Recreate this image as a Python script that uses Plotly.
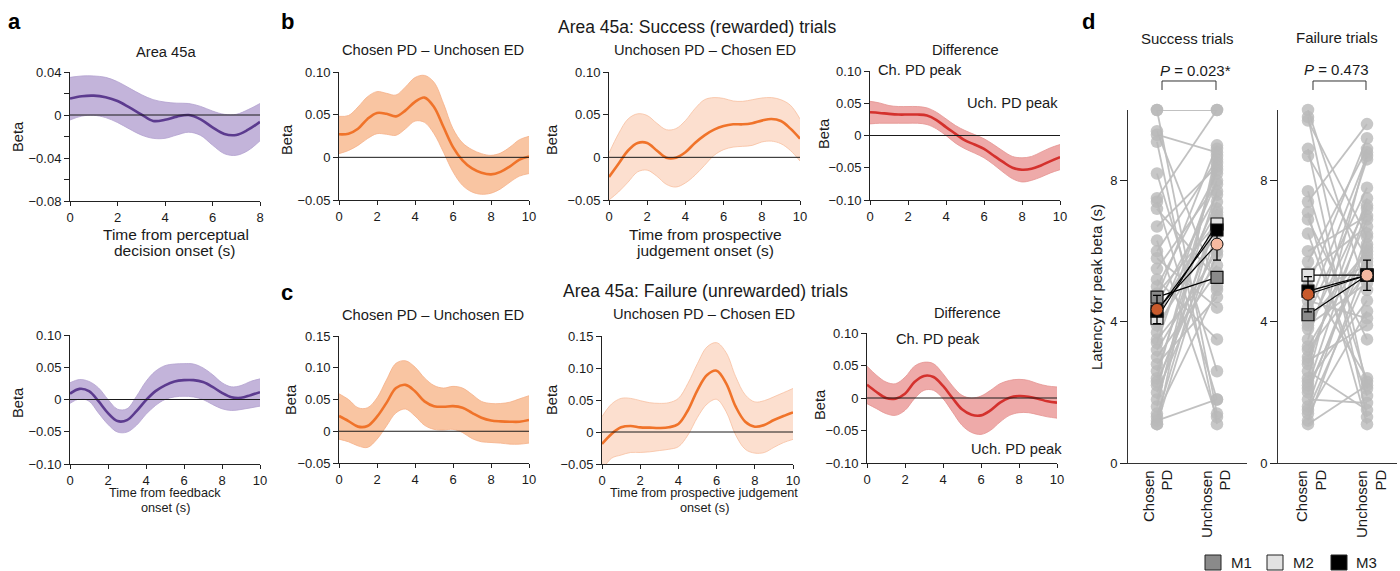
import plotly.graph_objects as go

W, H = 1400, 571
FONT = "Liberation Sans"
TXT = "#1a1a1a"
AX = "#222222"


def X(p):
    return p / W


def Y(p):
    return 1 - p / H


# ---------------- data ----------------
T8 = [0, 0.5, 1, 1.5, 2, 2.5, 3, 3.5, 4, 4.5, 5, 5.5, 6, 6.5, 7, 7.5, 8]
T10 = [0, 0.5, 1, 1.5, 2, 2.5, 3, 3.5, 4, 4.5, 5, 5.5, 6, 6.5, 7, 7.5, 8, 8.5, 9, 9.5, 10]

# a (top): perceptual decision onset
A1_MEAN = [0.0153, 0.0175, 0.018, 0.0165, 0.013, 0.007, 0.0006, -0.0055, -0.0045, -0.0015, 0.0,
           -0.004, -0.0115, -0.0177, -0.0186, -0.0137, -0.0064]
A1_UP = [0.035, 0.0363, 0.0363, 0.035, 0.031, 0.025, 0.019, 0.0143, 0.012, 0.011, 0.0107,
         0.008, 0.0037, 0.0006, 0.0006, 0.005, 0.0107]
A1_LO = [-0.0046, -0.001, -0.0003, -0.0024, -0.007, -0.013, -0.0186, -0.0217, -0.0217, -0.0186, -0.016,
         -0.019, -0.028, -0.036, -0.0375, -0.033, -0.024]

# a (bottom): feedback onset
A2_MEAN = [0.009, 0.0165, 0.013, -0.0026, -0.021, -0.0335, -0.032, -0.018, -0.001, 0.013, 0.022,
           0.028, 0.030, 0.030, 0.027, 0.0196, 0.0103, 0.0036, 0.0026, 0.0067, 0.0113]
A2_UP = [0.026, 0.031, 0.028, 0.018, 0.0, -0.015, -0.0144, 0.005, 0.028, 0.044, 0.0525,
         0.055, 0.0556, 0.055, 0.049, 0.0386, 0.026, 0.0196, 0.0216, 0.028, 0.032]
A2_LO = [-0.006, 0.001, -0.0026, -0.021, -0.0386, -0.0505, -0.0505, -0.040, -0.023, -0.0093, 0.0,
         0.004, 0.005, 0.004, 0.0, -0.0077, -0.0144, -0.017, -0.0155, -0.013, -0.0103]

# b: success trials
B1_MEAN = [0.027, 0.0277, 0.0335, 0.045, 0.052, 0.051, 0.048, 0.055, 0.065, 0.070, 0.059,
           0.0355, 0.012, -0.0035, -0.013, -0.018, -0.020, -0.017, -0.0105, -0.0027, 0.001]
B1_UP = [0.048, 0.049, 0.059, 0.071, 0.077, 0.075, 0.073, 0.0825, 0.0935, 0.096, 0.088,
         0.063, 0.0335, 0.017, 0.009, 0.0043, 0.0023, 0.005, 0.012, 0.0207, 0.0246]
B1_LO = [0.0043, 0.008, 0.014, 0.022, 0.0277, 0.027, 0.0258, 0.0335, 0.0425, 0.041, 0.0277,
         0.006, -0.017, -0.0328, -0.0406, -0.0433, -0.042, -0.037, -0.029, -0.022, -0.019]

B2_MEAN = [-0.023, -0.0074, 0.008, 0.0168, 0.0168, 0.008, -0.0004, -0.0004, 0.006, 0.0168, 0.0258,
           0.0324, 0.0367, 0.0387, 0.0387, 0.040, 0.043, 0.045, 0.0426, 0.0336, 0.0219]
B2_UP = [0.005, 0.0277, 0.045, 0.051, 0.049, 0.040, 0.0324, 0.0336, 0.043, 0.057, 0.0675,
         0.070, 0.069, 0.066, 0.0656, 0.0675, 0.0695, 0.070, 0.0675, 0.061, 0.045]
B2_LO = [-0.05, -0.0406, -0.029, -0.017, -0.015, -0.022, -0.0316, -0.0348, -0.030, -0.021, -0.0094,
         0.0023, 0.009, 0.012, 0.0129, 0.014, 0.018, 0.019, 0.016, 0.008, -0.0043]

B3_MEAN = [0.036, 0.035, 0.0335, 0.0325, 0.0325, 0.0325, 0.031, 0.024, 0.013, 0.0026, -0.0077,
           -0.014, -0.0206, -0.031, -0.041, -0.050, -0.053, -0.0516, -0.0464, -0.0397, -0.0335]
B3_UP = [0.053, 0.0505, 0.0464, 0.0449, 0.0449, 0.0449, 0.0428, 0.036, 0.0258, 0.0155, 0.0077,
         0.0015, -0.005, -0.014, -0.024, -0.0325, -0.0346, -0.0325, -0.0258, -0.019, -0.014]
B3_LO = [0.018, 0.019, 0.019, 0.019, 0.019, 0.019, 0.017, 0.0103, 0.0, -0.0119, -0.0206,
         -0.0273, -0.0346, -0.045, -0.0567, -0.067, -0.072, -0.0696, -0.0644, -0.058, -0.053]

# c: failure trials
C1_MEAN = [0.024, 0.016, 0.0073, 0.0083, 0.0229, 0.0447, 0.068, 0.073, 0.063, 0.047, 0.0395,
           0.0385, 0.0395, 0.037, 0.029, 0.0213, 0.017, 0.0156, 0.015, 0.015, 0.0177]
C1_UP = [0.059, 0.05, 0.037, 0.037, 0.0525, 0.081, 0.107, 0.111, 0.101, 0.084, 0.072,
         0.068, 0.0707, 0.068, 0.058, 0.047, 0.0437, 0.0437, 0.0458, 0.051, 0.056]
C1_LO = [-0.0125, -0.0166, -0.023, -0.0255, -0.0125, 0.0083, 0.029, 0.035, 0.024, 0.0094, 0.003,
         0.002, 0.003, -0.002, -0.0115, -0.0166, -0.0177, -0.0187, -0.0203, -0.0203, -0.0187]

C2_MEAN = [-0.0187, -0.003, 0.0073, 0.0094, 0.0073, 0.0068, 0.0063, 0.0073, 0.0125, 0.034, 0.0656,
           0.089, 0.0958, 0.076, 0.0395, 0.016, 0.0083, 0.011, 0.0187, 0.025, 0.0307]
C2_UP = [0.024, 0.0437, 0.0525, 0.0525, 0.049, 0.0458, 0.0447, 0.0458, 0.0525, 0.076, 0.107,
         0.133, 0.1396, 0.124, 0.0864, 0.058, 0.047, 0.049, 0.055, 0.0614, 0.068]
C2_LO = [-0.06, -0.041, -0.036, -0.032, -0.032, -0.031, -0.029, -0.027, -0.023, -0.0047, 0.023,
         0.0437, 0.051, 0.0317, -0.0047, -0.027, -0.033, -0.032, -0.024, -0.0166, -0.0115]

C3_MEAN = [0.0205, 0.0092, 0.0, -0.001, 0.0067, 0.0246, 0.034, 0.0323, 0.0185, 0.0, -0.0174,
           -0.0257, -0.0267, -0.019, -0.0072, 0.0005, 0.003, 0.002, -0.001, -0.0051, -0.0072]
C3_UP = [0.049, 0.035, 0.0246, 0.022, 0.032, 0.049, 0.055, 0.0528, 0.0374, 0.0185, 0.0041,
         0.0, 0.003, 0.0118, 0.022, 0.027, 0.0287, 0.027, 0.022, 0.0185, 0.017]
C3_LO = [-0.0087, -0.0164, -0.024, -0.0267, -0.019, -0.001, 0.0118, 0.0118, -0.001, -0.0215, -0.042,
         -0.053, -0.056, -0.0497, -0.037, -0.0267, -0.0226, -0.0226, -0.0257, -0.029, -0.031]

# d: latency for peak beta (s), per session, chosen PD vs unchosen PD
D_CATS = ["Chosen PD", "Unchosen PD"]
SUCC_CHOSEN = [10.0, 10.0, 9.4, 9.3, 9.1, 8.2, 7.5, 7.4, 7.2, 6.7, 6.3, 6.0, 5.8, 5.5, 5.2, 5.0, 4.8, 4.7, 4.5, 4.2,
               4.0, 3.9, 3.7, 3.5, 3.4, 3.2, 2.8, 2.6, 2.4, 2.3, 2.2, 2.0, 1.8, 1.6, 1.4, 1.3, 1.2, 1.1, 1.1, 3.0]
SUCC_UNCHOSEN = [10.0, 1.4, 5.0, 8.8, 1.1, 2.6, 10.0, 1.8, 5.2, 8.4, 1.3, 8.6, 4.4, 7.9, 3.5, 8.2, 6.8, 9.0, 7.6, 7.1,
                 8.0, 6.5, 7.4, 5.6, 8.3, 6.0, 4.7, 7.7, 8.5, 6.2, 6.9, 5.9, 7.2, 8.7, 4.9, 7.0, 1.8, 6.6, 8.9, 5.4]
FAIL_CHOSEN = [10.0, 9.8, 9.7, 8.9, 8.7, 7.7, 7.4, 7.1, 6.9, 6.5, 6.0, 5.7, 5.4, 5.2, 5.0, 4.8, 4.6, 4.4, 4.2, 4.0,
               3.9, 3.8, 3.5, 3.2, 3.0, 2.9, 2.8, 2.6, 2.4, 2.3, 2.2, 2.1, 2.0, 1.8, 1.6, 1.5, 1.4, 1.2, 1.1, 3.3]
FAIL_UNCHOSEN = [4.9, 2.1, 6.4, 1.3, 5.8, 2.3, 9.6, 1.1, 3.5, 1.9, 7.0, 8.9, 6.7, 2.4, 9.2, 5.6, 4.1, 8.7, 7.8, 6.0,
                 5.1, 7.3, 8.6, 5.4, 6.9, 3.9, 7.5, 1.5, 8.8, 4.6, 7.2, 5.9, 6.2, 1.7, 6.5, 5.3, 4.3, 5.7, 2.2, 6.1]

MONKEYS = ["M1", "M2", "M3"]
SUCC_M_CHOSEN = [4.7, 4.1, 4.3]
SUCC_M_UNCHOSEN = [5.26, 6.77, 6.6]
FAIL_M_CHOSEN = [4.2, 5.32, 4.87]
FAIL_M_UNCHOSEN = [5.32, 5.32, 5.32]
SUCC_MEAN = [4.35, 6.2]
SUCC_SEM = [0.4, 0.45]
FAIL_MEAN = [4.78, 5.32]
FAIL_SEM = [0.5, 0.43]
P_SUCC = "<i>P</i> = 0.023*"
P_FAIL = "<i>P</i> = 0.473"

MONKEY_COLORS = ["#8a8a8a", "#e2e2e2", "#000000"]

PURPLE = ("#5c3b8f", "#c3b4da", "#b3a1cf")
ORANGE = ("#f0732a", "#f9c5a2", "#f5b088")
ORANGE_L = ("#f0732a", "#fcdfcf", "#f7bf9f")
RED = ("#d4312d", "#eeaaa9", "#e59391")

fig = go.Figure()


def axid(i):
    return "" if i == 1 else str(i)


def band(i, t, up, lo, mean, col):
    a = axid(i)
    fig.add_trace(go.Scatter(x=t, y=lo, mode="lines", line=dict(color=col[2], width=0.8, shape="spline"),
                             xaxis="x" + a, yaxis="y" + a, showlegend=False, hoverinfo="skip"))
    fig.add_trace(go.Scatter(x=t, y=up, mode="lines", line=dict(color=col[2], width=0.8, shape="spline"),
                             fill="tonexty", fillcolor=col[1],
                             xaxis="x" + a, yaxis="y" + a, showlegend=False, hoverinfo="skip"))
    fig.add_trace(go.Scatter(x=t, y=mean, mode="lines", line=dict(color=col[0], width=2.6, shape="spline"),
                             xaxis="x" + a, yaxis="y" + a, showlegend=False))


band(1, T8, A1_UP, A1_LO, A1_MEAN, PURPLE)
band(2, T10, A2_UP, A2_LO, A2_MEAN, PURPLE)
band(3, T10, B1_UP, B1_LO, B1_MEAN, ORANGE)
band(4, T10, B2_UP, B2_LO, B2_MEAN, ORANGE_L)
band(5, T10, B3_UP, B3_LO, B3_MEAN, RED)
band(6, T10, C1_UP, C1_LO, C1_MEAN, ORANGE)
band(7, T10, C2_UP, C2_LO, C2_MEAN, ORANGE_L)
band(8, T10, C3_UP, C3_LO, C3_MEAN, RED)


def latency_panel(i, chosen, unchosen, m_ch, m_un, mean, sem):
    a = axid(i)
    xs, ys = [], []
    for c, u in zip(chosen, unchosen):
        xs += [0, 1, None]
        ys += [c, u, None]
    fig.add_trace(go.Scatter(x=xs, y=ys, mode="lines+markers",
                             line=dict(color="rgba(190,190,190,0.95)", width=1.8),
                             marker=dict(size=12.5, color="rgba(185,185,185,0.8)", line=dict(width=0)),
                             cliponaxis=False, xaxis="x" + a, yaxis="y" + a, showlegend=False))
    for k in range(len(m_ch)):
        fig.add_trace(go.Scatter(x=[0, 1], y=[m_ch[k], m_un[k]], mode="lines",
                                 line=dict(color="black", width=1.2), cliponaxis=False,
                                 xaxis="x" + a, yaxis="y" + a, showlegend=False))
    fig.add_trace(go.Scatter(x=[0, 1], y=mean, mode="lines", line=dict(color="black", width=1.2),
                             cliponaxis=False, xaxis="x" + a, yaxis="y" + a, showlegend=False))
    for k in range(len(m_ch)):
        fig.add_trace(go.Scatter(x=[0, 1], y=[m_ch[k], m_un[k]], mode="markers",
                                 marker=dict(symbol="square", size=12, color=MONKEY_COLORS[k],
                                             line=dict(color="#111111", width=1.2)),
                                 cliponaxis=False, xaxis="x" + a, yaxis="y" + a, showlegend=False,
                                 name=MONKEYS[k]))
    fig.add_trace(go.Scatter(x=[0, 1], y=mean, mode="markers",
                             error_y=dict(type="data", array=sem, color="black", thickness=1.3, width=4),
                             marker=dict(size=12, color=["#c85a2c", "#f5b9a0"],
                                         line=dict(color="#111111", width=1)),
                             cliponaxis=False, xaxis="x" + a, yaxis="y" + a, showlegend=False))


latency_panel(9, SUCC_CHOSEN, SUCC_UNCHOSEN, SUCC_M_CHOSEN, SUCC_M_UNCHOSEN, SUCC_MEAN, SUCC_SEM)
latency_panel(10, FAIL_CHOSEN, FAIL_UNCHOSEN, FAIL_M_CHOSEN, FAIL_M_UNCHOSEN, FAIL_MEAN, FAIL_SEM)

# ---------------- axes ----------------
layout = {}


def fmt(v):
    if v == 0:
        return "0"
    s = "%.2f" % abs(v)
    return ("\u2212" + s) if v < 0 else s


def set_axes(i, xl, xr, yt, yb, xrng, xticks, yrng, yticks, ylabels=None, xticklabels=True):
    a = axid(i)
    layout["xaxis" + a] = dict(domain=[X(xl), X(xr)], range=xrng, anchor="y" + a, showline=True,
                               linecolor=AX, linewidth=1, ticks="outside", ticklen=4, tickwidth=1,
                               tickcolor=AX, tickvals=xticks, showgrid=False, zeroline=False,
                               showticklabels=xticklabels, automargin=False,
                               tickfont=dict(size=13, color=TXT, family=FONT))
    if ylabels is None:
        ylabels = [fmt(v) for v in yticks]
    layout["yaxis" + a] = dict(domain=[Y(yb), Y(yt)], range=yrng, anchor="x" + a, showline=True,
                               linecolor=AX, linewidth=1, ticks="outside", ticklen=5, tickwidth=1,
                               tickcolor=AX, tickvals=yticks, ticktext=ylabels, showgrid=False,
                               zeroline=False, automargin=False,
                               tickfont=dict(size=13, color=TXT, family=FONT))


X8 = [0, 2, 4, 6, 8]
X10 = [0, 2, 4, 6, 8, 10]
set_axes(1, 70, 260, 72, 201, [0, 8], X8, [-0.08, 0.04],
         [-0.08, -0.06, -0.04, -0.02, 0, 0.02, 0.04],
         ["\u22120.08", "", "\u22120.04", "", "0", "", "0.04"])
set_axes(2, 70, 260, 335, 464, [0, 10], X10, [-0.10, 0.10], [-0.10, -0.05, 0, 0.05, 0.10])
set_axes(3, 339, 529, 72, 200, [0, 10], X10, [-0.05, 0.10], [-0.05, 0, 0.05, 0.10])
set_axes(4, 609, 800, 72, 200, [0, 10], X10, [-0.05, 0.10], [-0.05, 0, 0.05, 0.10])
set_axes(5, 870, 1060, 71, 200, [0, 10], X10, [-0.10, 0.10], [-0.10, -0.05, 0, 0.05, 0.10])
set_axes(6, 339, 529, 336, 463, [0, 10], X10, [-0.05, 0.15], [-0.05, 0, 0.05, 0.10, 0.15])
set_axes(7, 602, 793, 336, 464, [0, 10], X10, [-0.05, 0.15], [-0.05, 0, 0.05, 0.10, 0.15])
set_axes(8, 867, 1057, 333, 463, [0, 10], X10, [-0.10, 0.10], [-0.10, -0.05, 0, 0.05, 0.10])
set_axes(9, 1128, 1247, 110, 463, [-0.483, 1.5], [], [0, 10], [0, 4, 8], ["0", "4", "8"], False)
set_axes(10, 1278, 1397, 110, 463, [-0.508, 1.508], [], [0, 10], [0, 4, 8], ["0", "4", "8"], False)
for a in ("9", "10"):
    layout["xaxis" + a]["ticks"] = ""
    layout["yaxis" + a]["ticklen"] = 7
    layout["yaxis" + a]["linecolor"] = "#333333"
    layout["xaxis" + a]["linecolor"] = "#333333"

# zero lines
shapes = []
for i in range(1, 9):
    a = axid(i)
    shapes.append(dict(type="line", xref="x%s domain" % a, x0=0, x1=1, yref="y" + a, y0=0, y1=0,
                       line=dict(color="#1a1a1a", width=1), layer="above"))

# brackets in d
for xl, xr in ((1162, 1216), (1313, 1366)):
    shapes.append(dict(type="path", xref="paper", yref="paper",
                       path="M %f %f L %f %f L %f %f L %f %f" % (X(xl), Y(90), X(xl), Y(81), X(xr), Y(81), X(xr), Y(90)),
                       line=dict(color="#333333", width=1)))

# legend squares
for col, xl in zip(MONKEY_COLORS, (1205, 1267, 1331)):
    shapes.append(dict(type="rect", xref="paper", yref="paper", x0=X(xl), x1=X(xl + 16), y0=Y(570), y1=Y(555),
                       fillcolor=col, line=dict(color="#222222", width=1)))

anns = []


def ann(text, x, y, size, angle=0, xa="center", ya="middle", bold=False, color=TXT):
    anns.append(dict(text=("<b>%s</b>" % text) if bold else text, x=X(x), y=Y(y), xref="paper", yref="paper",
                     showarrow=False, textangle=angle, xanchor=xa, yanchor=ya, borderpad=0,
                     font=dict(size=size, color=color, family=FONT)))


# panel letters
ann("a", 14, 21, 22, bold=True, color="black")
ann("b", 287, 21, 22, bold=True, color="black")
ann("c", 287, 292, 22, bold=True, color="black")
ann("d", 1088, 21, 22, bold=True, color="black")

# section titles
ann("Area 45a: Success (rewarded) trials", 697, 27, 17.5)
ann("Area 45a: Failure (unrewarded) trials", 705, 291, 17.5)

# panel titles
ann("Area 45a", 166, 52, 14.7)
ann("Chosen PD \u2013 Unchosen ED", 433, 50, 14.7)
ann("Unchosen PD \u2013 Chosen ED", 705, 50, 14.7)
ann("Difference", 965, 50, 14.7)
ann("Chosen PD \u2013 Unchosen ED", 433, 315, 14.7)
ann("Unchosen PD \u2013 Chosen ED", 704, 314, 14.7)
ann("Difference", 967, 313, 14.7)

# Beta labels
for (bx, by) in ((18, 137), (18, 403), (287, 140), (552, 140), (824, 133), (291, 400), (552, 400), (820, 405)):
    ann("Beta", bx, by, 14.7, angle=-90)

# x-axis titles
ann("Time from perceptual", 176, 234, 15.5)
ann("decision onset (s)", 174, 250, 15.5)
ann("Time from feedback", 165, 493, 12.7)
ann("onset (s)", 165, 508, 12.7)
ann("Time from prospective", 705, 234, 15.5)
ann("judgement onset (s)", 705, 250, 15.5)
ann("Time from prospective judgement", 704, 493, 12.7)
ann("onset (s)", 704, 508, 12.7)

# peak annotations
ann("Ch. PD peak", 920, 70, 14.7)
ann("Uch. PD peak", 1012, 103, 14.7)
ann("Ch. PD peak", 938, 339, 14.7)
ann("Uch. PD peak", 1016, 449, 14.7)

# panel d texts
ann("Success trials", 1187, 39, 15)
ann("Failure trials", 1337, 38, 15)
ann(P_SUCC, 1195, 71, 15)
ann(P_FAIL, 1336, 69, 15)
ann("Latency for peak beta (s)", 1096, 287, 15, angle=-90)
for lx, txt in ((1148, "Chosen"), (1166, "PD"), (1206, "Unchosen"), (1224, "PD"),
                (1301, "Chosen"), (1320, "PD"), (1361, "Unchosen"), (1380, "PD")):
    ann(txt, lx, 469, 15, angle=-90, ya="top")

# legend texts
for lx, txt in ((1230, "M1"), (1292, "M2"), (1355, "M3")):
    ann(txt, lx, 562, 15, xa="left")

fig.update_layout(**layout)
fig.update_layout(width=W, height=H, margin=dict(l=0, r=0, t=0, b=0, autoexpand=False),
                  plot_bgcolor="white", paper_bgcolor="white", showlegend=False, hovermode=False,
                  shapes=shapes, annotations=anns, font=dict(family=FONT, color=TXT))
fig.write_html("out.html", config={"displayModeBar": False, "staticPlot": True},
               post_script="document.body.style.margin='0';document.body.style.padding='0';"
                           "document.body.style.overflow='hidden';")
